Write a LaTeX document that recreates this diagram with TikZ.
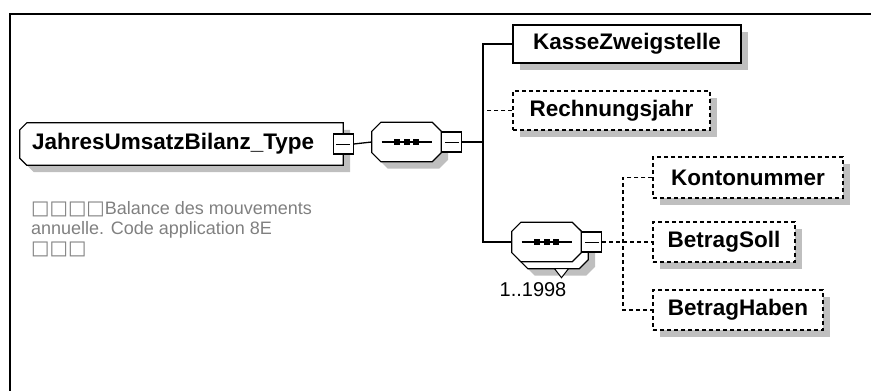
\documentclass[tikz,border=0pt]{standalone}
\usepackage{fontspec}
\setmainfont{Liberation Sans}
\newfontfamily\boxfont{DejaVu Sans}
\usetikzlibrary{shadows,backgrounds}
\definecolor{shadowG}{rgb}{0.75,0.75,0.75}
\definecolor{noteG}{rgb}{0.5,0.5,0.5}
% 八边形（sequence）与左侧切角（根元素）轮廓
\newcommand\octpath[2]{([xshift=#2]#1.north west) -- ([xshift=-#2]#1.north east)
  -- ([yshift=-#2]#1.north east) -- ([yshift=#2]#1.south east)
  -- ([xshift=-#2]#1.south east) -- ([xshift=#2]#1.south west)
  -- ([yshift=#2]#1.south west) -- ([yshift=-#2]#1.north west) -- cycle}
\newcommand\leftcutpath[2]{([xshift=#2]#1.north west) -- (#1.north east)
  -- (#1.south east) -- ([xshift=#2]#1.south west)
  -- ([yshift=#2]#1.south west) -- ([yshift=-#2]#1.north west) -- cycle}
\tikzset{
  shd/.style={general shadow={fill=shadowG, shadow xshift=7pt, shadow yshift=-7pt}},
  namefont/.style={font=\fontsize{22.5}{27}\selectfont\bfseries},
  elem/.style={draw, fill=white, shd, line width=1.3pt, inner sep=0pt,
    minimum height=39pt, namefont},
  optelem/.style={elem, dash pattern=on 4pt off 3pt, line width=1.5pt},
  seqbox/.style={inner sep=0pt, minimum width=69pt, minimum height=39pt},
  shdfill/.style={fill=shadowG, transform canvas={shift={(7pt,-7pt)}}},
  outline/.style={draw, fill=white, line width=1.2pt},
  minusbox/.style={draw, fill=white, line width=1.2pt, minimum size=20pt, inner sep=0pt,
    path picture={\draw[line width=1pt] ([xshift=-7pt]path picture bounding box.center)
      -- ([xshift=7pt]path picture bounding box.center);}},
  link/.style={line width=1.3pt},
  optlink/.style={line width=1.6pt, dash pattern=on 4pt off 3pt}
}

\begin{document}
\begin{tikzpicture}[x=1pt, y=-1pt, line cap=butt]
\useasboundingbox (0,0) rectangle (871,391);
% 外框
\draw[line width=1.5pt] (871,14) -- (10,14) -- (10,391);
% 根元素
\node[namefont, inner ysep=0pt, inner xsep=12pt, text width=299pt, align=left,
  minimum height=42pt] (root) at (181.5,144) {JahresUmsatzBilanz\_Type};
\node[minusbox] (rootM) at (root.east) {};
\node[anchor=north west, align=left, text=noteG, font=\fontsize{18}{20}\selectfont,
  inner sep=0pt] (note) at (31,201)
  {{\boxfont\fontsize{19.5}{20}\selectfont □□□□}Balance des mouvements\\annuelle. Code application 8E\\{\boxfont\fontsize{19.5}{20}\selectfont □□□}};
% 第一个 sequence
\node[seqbox] (seqA) at (406.5,142) {};
\node[minusbox, anchor=west] (seqAM) at (seqA.east) {};
\draw[link] ([xshift=-25pt]seqA.center) -- ([xshift=25pt]seqA.center);
\foreach \d in {-9.5,0,9.5}
  \fill ([xshift=\d pt]seqA.center) +(-3,-3) rectangle +(3,3);
\draw[link] (rootM.east) -- (seqA.west);
% 子元素
\node[elem, minimum width=228pt, minimum height=38pt] (kasse) at (627,44) {KasseZweigstelle};
\node[optelem, minimum width=197pt] (rech) at (611.5,110.5) {Rechnungsjahr};
% 第二个 sequence（1..1998）
\node[seqbox] (seqBb) at (553.5,249) {};
\node[seqbox] (seqB) at (546.5,242) {};
\node[minusbox, anchor=west] (seqBM) at (seqB.east) {};
\draw[link] ([xshift=-25pt]seqB.center) -- ([xshift=25pt]seqB.center);
\foreach \d in {-9.5,0,9.5}
  \fill ([xshift=\d pt]seqB.center) +(-3,-3) rectangle +(3,3);
\node[font=\fontsize{20}{24}\selectfont] (occB) at (533,290) {1..1998};
% 背景层：轮廓与阴影
\begin{pgfonlayer}{background}
  \fill[shdfill] \leftcutpath{root}{7pt};
  \path[outline] \leftcutpath{root}{7pt};
  \fill[shdfill] \octpath{seqA}{9pt};
  \path[outline] \octpath{seqA}{9pt};
  \fill[shdfill] \octpath{seqBb}{9pt};
  \path[outline] \octpath{seqBb}{9pt};
  \draw[line width=1pt, fill=white] ([xshift=8pt]seqBb.south) +(-7,0) -- +(7,0) -- +(0,9) -- cycle;
  \path[outline] \octpath{seqB}{9pt};
\end{pgfonlayer}
% 总线
\coordinate (busA) at (483,142);
\draw[link] (seqAM.east) -- (busA);
\draw[link] (kasse.west) -| (busA) |- (seqB.west);
\draw[optlink] (rech.west) -- (rech.west -| busA);
% 内层元素
\node[optelem, minimum width=190pt, minimum height=41pt] (konto) at (748,177.5) {Kontonummer};
\node[optelem, minimum width=142pt, minimum height=40pt] (soll) at (724,242) {BetragSoll};
\node[optelem, minimum width=170pt, minimum height=40pt] (haben) at (738,310) {BetragHaben};
\coordinate (busB) at (623,242);
\draw[optlink] (seqBM.east) -- (soll.west);
\draw[optlink] (konto.west) -| (busB) |- (haben.west);
\end{tikzpicture}
\end{document}
